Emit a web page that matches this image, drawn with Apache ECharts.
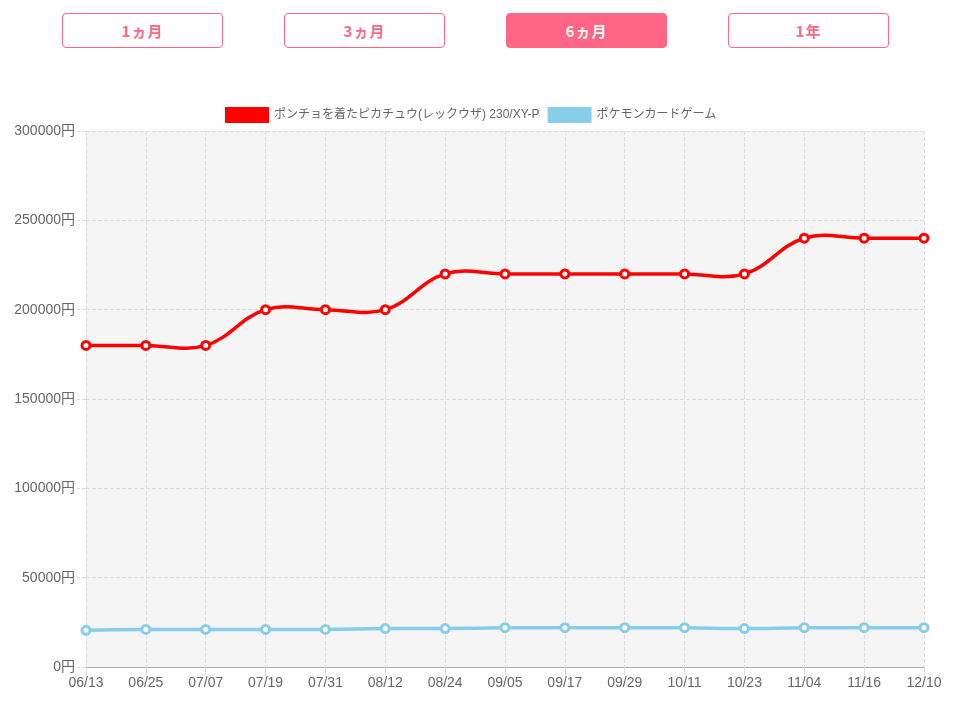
<!DOCTYPE html>
<html><head><meta charset="utf-8">
<script src="https://cdn.jsdelivr.net/npm/echarts@6/dist/echarts.min.js"></script>
<style>
html,body{margin:0;padding:0;background:#fff;}
#wrap{position:relative;width:971px;height:707px;}
#chart{position:absolute;left:0;top:0;width:971px;height:707px;}
.btn{position:absolute;top:13px;width:159px;height:33px;border:1px solid #ff6685;border-radius:4px;color:#ff6685;background:#fff;
font-family:"Noto Sans CJK JP",sans-serif;font-weight:bold;font-size:15px;line-height:33px;text-align:center;z-index:2;letter-spacing:1px;}
.btn.on{background:#ff6685;color:#fff;}
</style></head>
<body><div id="wrap">
<div id="chart"></div>
<div class="btn" style="left:62px">1ヵ月</div>
<div class="btn" style="left:284px">3ヵ月</div>
<div class="btn on" style="left:506px">6ヵ月</div>
<div class="btn" style="left:728px">1年</div>
</div>
<script>
const categories = ['06/13','06/25','07/07','07/19','07/31','08/12','08/24','09/05','09/17','09/29','10/11','10/23','11/04','11/16','12/10'];
const seriesNames = ['ポンチョを着たピカチュウ(レックウザ) 230/XY-P','ポケモンカードゲーム'];
const redValues = [180000,180000,180000,200000,200000,200000,220000,220000,220000,220000,220000,220000,240000,240000,240000];
const blueValues = [20500,21000,21000,21000,21000,21500,21500,22000,22000,22000,22000,21500,22000,22000,22000];
const yTicks = {min:0, max:300000, interval:50000};
const colors = ['#ff0000','#87ceeb'];

const font = '"Liberation Sans", Arial, "Noto Sans CJK JP", sans-serif';

// Chart.js style (tension 0.4) cubic curve through the data, positioned by the axes
function curveRenderer(values, color) {
  return function (params, api) {
    const pts = values.map((v, i) => api.coord([i, v]));
    const t = 0.4;
    const cps = pts.map((p, i) => {
      const prev = pts[i - 1] || p, next = pts[i + 1] || p;
      const d01 = Math.hypot(p[0] - prev[0], p[1] - prev[1]);
      const d12 = Math.hypot(next[0] - p[0], next[1] - p[1]);
      let s01 = d01 / (d01 + d12), s12 = d12 / (d01 + d12);
      if (isNaN(s01)) s01 = 0; if (isNaN(s12)) s12 = 0;
      const fa = t * s01, fb = t * s12;
      return {
        prev: [p[0] - fa * (next[0] - prev[0]), p[1] - fa * (next[1] - prev[1])],
        next: [p[0] + fb * (next[0] - prev[0]), p[1] + fb * (next[1] - prev[1])]
      };
    });
    const children = [];
    for (let i = 0; i < pts.length - 1; i++) {
      children.push({
        type: 'bezierCurve',
        shape: {x1: pts[i][0], y1: pts[i][1], x2: pts[i + 1][0], y2: pts[i + 1][1],
          cpx1: cps[i].next[0], cpy1: cps[i].next[1], cpx2: cps[i + 1].prev[0], cpy2: cps[i + 1].prev[1]},
        style: {stroke: color, lineWidth: 3.5, fill: null}
      });
    }
    return {type: 'group', children: children};
  };
}

const chart = echarts.init(document.getElementById('chart'));
chart.setOption({
  animation:false,
  legend:{top:102, left:220, itemWidth:44, itemHeight:16, itemGap:8,
    textStyle:{color:'#666', fontSize:12, fontFamily:font},
    data:[{name:seriesNames[0], icon:'rect', itemStyle:{color:colors[0], borderWidth:0}},
          {name:seriesNames[1], icon:'rect', itemStyle:{color:colors[1], borderWidth:0}}]},
  grid:{left:86, right:47, top:131, bottom:40, show:true, backgroundColor:'#f5f5f5', borderWidth:0},
  xAxis:{type:'category', data:categories, boundaryGap:false,
    axisLine:{lineStyle:{color:'#aaa'}},
    axisTick:{show:true, length:8, lineStyle:{color:'#ddd'}},
    axisLabel:{color:'#666', fontSize:14, fontFamily:font, margin:9},
    splitLine:{show:true, lineStyle:{type:'dashed', color:'#ddd'}}},
  yAxis:{type:'value', min:yTicks.min, max:yTicks.max, interval:yTicks.interval,
    axisLine:{show:false},
    axisTick:{show:true, length:9, lineStyle:{color:'#ddd', type:'dashed'}},
    axisLabel:{color:'#666', fontSize:14, fontFamily:font, formatter:function(v){return v + '円';}, margin:11},
    splitLine:{show:true, lineStyle:{type:'dashed', color:'#ddd'}}},
  series:[
    {name:seriesNames[0]+'_curve', type:'custom', data:[0], renderItem:curveRenderer(redValues, colors[0]), z:2, silent:true},
    {name:seriesNames[1]+'_curve', type:'custom', data:[0], renderItem:curveRenderer(blueValues, colors[1]), z:2, silent:true},
    {name:seriesNames[0], type:'line', data:redValues, symbol:'circle', symbolSize:8, z:3,
      itemStyle:{color:'#fff', borderColor:colors[0], borderWidth:3},
      lineStyle:{color:colors[0], width:0, opacity:0}},
    {name:seriesNames[1], type:'line', data:blueValues, symbol:'circle', symbolSize:8, z:3,
      itemStyle:{color:'#fff', borderColor:colors[1], borderWidth:3},
      lineStyle:{color:colors[1], width:0, opacity:0}}
  ]
});
</script>
</body></html>
